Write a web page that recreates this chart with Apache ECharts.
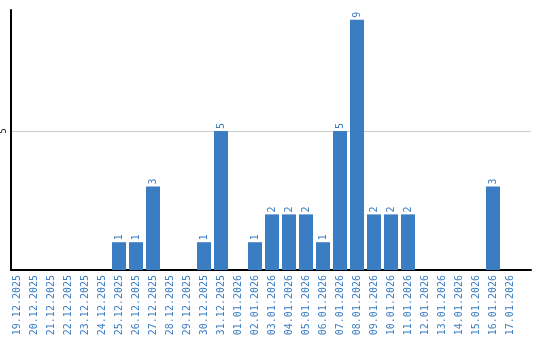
<!DOCTYPE html>
<html><head><meta charset="utf-8">
<script src="https://cdn.jsdelivr.net/npm/echarts@6/dist/echarts.min.js"></script>
<style>html,body{margin:0;padding:0;background:#fff}#c{width:540px;height:340px}</style>
</head><body><div id="c"></div>
<script>
const categories = ["19.12.2025","20.12.2025","21.12.2025","22.12.2025","23.12.2025","24.12.2025","25.12.2025","26.12.2025","27.12.2025","28.12.2025","29.12.2025","30.12.2025","31.12.2025","01.01.2026","02.01.2026","03.01.2026","04.01.2026","05.01.2026","06.01.2026","07.01.2026","08.01.2026","09.01.2026","10.01.2026","11.01.2026","12.01.2026","13.01.2026","14.01.2026","15.01.2026","16.01.2026","17.01.2026"];
const values = [0,0,0,0,0,0,1,1,3,0,0,1,5,0,1,2,2,2,1,5,9,2,2,2,0,0,0,0,3,0];
const yTicks = [5];
const yMax = 9.35;
const blue = '#3b7dc3';
const chart = echarts.init(document.getElementById('c'));
chart.setOption({
  animation: false,
  grid: [
    {left: 8.5, width: 510, top: 10, bottom: 70},
    {left: 10, right: 9, top: 10, bottom: 70}
  ],
  xAxis: [{
    gridIndex: 0, type: 'category', data: categories,
    axisLine: {show: false},
    axisTick: {show: false},
    axisLabel: {rotate: 90, interval: 0, color: blue, fontFamily: 'DejaVu Sans Mono', fontSize: 10, margin: 5}
  }, {
    gridIndex: 1, type: 'value', min: 0, max: 1,
    axisLine: {show: true, lineStyle: {color: '#000', width: 2}},
    axisTick: {show: false}, axisLabel: {show: false}, splitLine: {show: false}
  }],
  yAxis: [{
    gridIndex: 0, type: 'value', min: 0, max: yMax, show: false
  }, {
    gridIndex: 1, type: 'value', min: 0, max: yMax, interval: 5,
    axisLine: {show: true, lineStyle: {color: '#000', width: 2}},
    axisTick: {show: false},
    splitLine: {show: true, showMinLine: false, showMaxLine: false, lineStyle: {color: '#cccccc', width: 1}},
    axisLabel: {rotate: 90, color: '#000', fontFamily: 'DejaVu Sans', fontSize: 8, margin: 3,
      formatter: v => yTicks.includes(v) ? String(v) : ''}
  }],
  series: [{
    type: 'bar', data: values, barWidth: 14, xAxisIndex: 0, yAxisIndex: 0,
    itemStyle: {color: blue},
    label: {
      show: true, position: 'top', rotate: 90, align: 'left', verticalAlign: 'middle',
      distance: 2, color: blue, fontFamily: 'DejaVu Sans Mono', fontSize: 10,
      formatter: p => p.value > 0 ? String(p.value) : ''
    }
  }]
});
</script></body></html>
